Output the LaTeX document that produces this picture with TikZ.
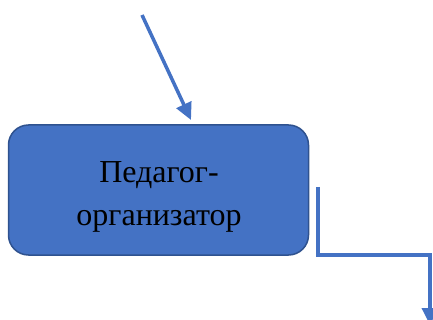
\documentclass[tikz,border=0pt]{standalone}
\usepackage{fontspec}
\setmainfont{Liberation Serif}
\usetikzlibrary{arrows.meta}
\definecolor{boxfill}{HTML}{4472C4}
\definecolor{boxdraw}{HTML}{2F528F}
\definecolor{linecol}{HTML}{4472C4}
\tikzset{
  rolebox/.style={draw=boxdraw, line width=1.5pt, fill=boxfill, rounded corners=20pt,
    minimum width=300pt, minimum height=130pt, inner sep=0pt},
  roletext/.style={inner sep=0pt, align=center,
    font=\fontsize{32pt}{43pt}\selectfont},
  flow/.style={draw=linecol, line width=3.5pt, -{Triangle[length=17pt,width=16pt]}}
}
\begin{document}
\begin{tikzpicture}[x=1pt,y=-1pt]
\useasboundingbox (0,0) rectangle (433,320);
\node[rolebox] (box) at (158.5,190) {};
\node[roletext] (label) at (159,197) {Педагог-\\организатор};
\coordinate (a1) at (142,15);
\coordinate (a2) at (191,120);
\draw[flow] (a1) -- (a2);
\coordinate (b1) at (318,187);
\coordinate (b2) at (318,255);
\coordinate (b3) at (430,255);
\coordinate (b4) at (430,325);
\draw[flow, line join=miter] (b1) -- (b2) -- (b3) -- (b4);
\end{tikzpicture}
\end{document}
